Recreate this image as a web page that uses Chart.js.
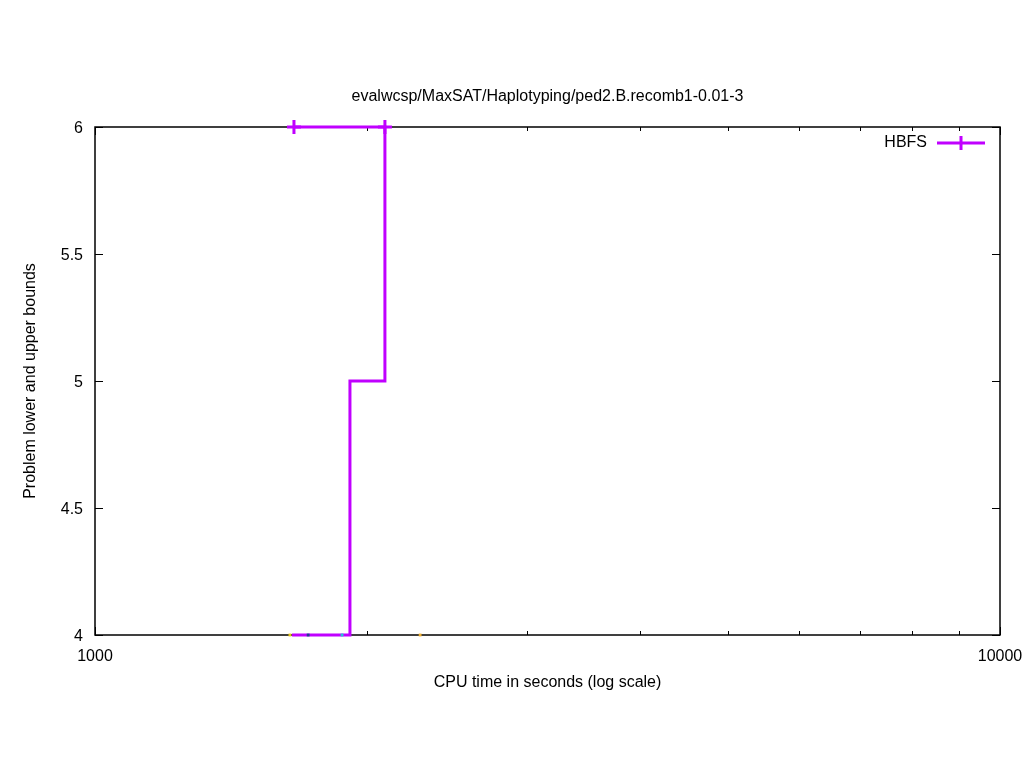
<!DOCTYPE html>
<html>
<head>
<meta charset="utf-8">
<script src="https://cdn.jsdelivr.net/npm/chart.js@4.4.1/dist/chart.umd.min.js"></script>
<style>
  html, body { margin: 0; padding: 0; background: #fff; }
  canvas { display: block; }
</style>
</head>
<body>
<canvas id="chart" width="1024" height="768"></canvas>
<script>
  "use strict";

  // HBFS bound trace (CPU seconds, bound value)
  const hbfsTimes = [1659, 2091, 2091, 1913, 1913, 1651];
  const hbfsBounds = [6, 6, 5, 5, 4, 4];
  const hbfsMarked = [true, true, false, false, false, false];

  // tiny dots of the other solvers sitting on the lower bound
  const dotTimes = [1642, 1720, 1875, 2287];
  const dotBounds = [4, 4, 4, 4];
  const dotColors = ["#e6c619", "#1f3f8f", "#22c7d6", "#f0b030"];

  const xTicks = [1000, 10000];
  const xMinorTicks = [2000, 3000, 4000, 5000, 6000, 7000, 8000, 9000];
  const yTicks = [4, 4.5, 5, 5.5, 6];

  const titleText = "evalwcsp/MaxSAT/Haplotyping/ped2.B.recomb1-0.01-3";
  const xLabel = "CPU time in seconds (log scale)";
  const yLabel = "Problem lower and upper bounds";
  const seriesName = "HBFS";

  const FONT = "'Liberation Sans', Arial, sans-serif";
  const PURPLE = "#c000ff";

  const hbfsData = hbfsTimes.map((t, i) => ({ x: t, y: hbfsBounds[i] }));

  const datasets = [
    {
      label: seriesName,
      data: hbfsData,
      showLine: true,
      clip: false,
      order: 1,
      borderColor: PURPLE,
      backgroundColor: PURPLE,
      borderWidth: 3,
      pointStyle: "cross",
      pointRadius: hbfsMarked.map((m) => (m ? 7 : 0)),
      pointBorderWidth: 3,
      pointBorderColor: PURPLE,
      tension: 0,
    },
  ];

  dotTimes.forEach((t, i) => {
    datasets.push({
      label: "dot" + i,
      data: [{ x: t, y: dotBounds[i] }],
      showLine: false,
      clip: false,
      order: 0,
      pointStyle: "rect",
      pointRadius: 2,
      borderWidth: 0,
      backgroundColor: dotColors[i],
      borderColor: dotColors[i],
    });
  });

  // gnuplot style frame, inward ticks, labels and key
  const gnuplotDecor = {
    id: "gnuplotDecor",
    beforeDatasetsDraw(chart) {
      const ctx = chart.ctx;
      const area = chart.chartArea;
      const xs = chart.scales.x;
      const ys = chart.scales.y;

      ctx.save();
      ctx.strokeStyle = "#000";
      ctx.lineWidth = 1;

      // ticks on all four sides
      ctx.beginPath();
      yTicks.forEach((v) => {
        const py = Math.round(ys.getPixelForValue(v)) + 0.5;
        ctx.moveTo(area.left, py);
        ctx.lineTo(area.left + 8, py);
        ctx.moveTo(area.right, py);
        ctx.lineTo(area.right - 8, py);
      });
      xTicks.forEach((v) => {
        const px = Math.round(xs.getPixelForValue(v)) + 0.5;
        ctx.moveTo(px, area.bottom);
        ctx.lineTo(px, area.bottom - 8);
        ctx.moveTo(px, area.top);
        ctx.lineTo(px, area.top + 8);
      });
      xMinorTicks.forEach((v) => {
        const px = Math.round(xs.getPixelForValue(v)) + 0.5;
        ctx.moveTo(px, area.bottom);
        ctx.lineTo(px, area.bottom - 4);
        ctx.moveTo(px, area.top);
        ctx.lineTo(px, area.top + 4);
      });
      ctx.stroke();

      // frame
      ctx.lineWidth = 1.5;
      ctx.strokeRect(area.left, area.top, area.right - area.left, area.bottom - area.top);
      ctx.restore();
    },
    afterDatasetsDraw(chart) {
      const ctx = chart.ctx;
      const area = chart.chartArea;

      ctx.save();
      ctx.fillStyle = "#000";
      ctx.font = "16px " + FONT;
      ctx.textAlign = "center";
      ctx.textBaseline = "middle";
      ctx.fillText(titleText, (area.left + area.right) / 2, 97);
      ctx.fillText(xLabel, (area.left + area.right) / 2, 683);

      ctx.save();
      ctx.translate(31, (area.top + area.bottom) / 2);
      ctx.rotate(-Math.PI / 2);
      ctx.fillText(yLabel, 0, 0);
      ctx.restore();

      // key
      ctx.textAlign = "right";
      ctx.fillText(seriesName, 927, 143);
      ctx.strokeStyle = PURPLE;
      ctx.lineWidth = 3;
      ctx.beginPath();
      ctx.moveTo(937, 143);
      ctx.lineTo(985, 143);
      ctx.moveTo(961, 136);
      ctx.lineTo(961, 150);
      ctx.stroke();

      ctx.restore();
    },
  };

  new Chart(document.getElementById("chart"), {
    type: "scatter",
    data: { datasets: datasets },
    options: {
      responsive: false,
      animation: false,
      devicePixelRatio: 1,
      layout: { padding: { top: 127, right: 24, bottom: 0, left: 0 } },
      plugins: {
        legend: { display: false },
        title: { display: false },
        tooltip: { enabled: false },
      },
      scales: {
        x: {
          type: "logarithmic",
          min: 1000,
          max: 10000,
          afterFit(scale) {
            scale.height = 133;
            scale.paddingLeft = 0;
            scale.paddingRight = 0;
          },
          afterBuildTicks(scale) {
            scale.ticks = xTicks.map((v) => ({ value: v }));
          },
          grid: { display: false, drawTicks: false },
          border: { display: false },
          ticks: {
            padding: 12,
            color: "#000",
            font: { family: FONT, size: 16 },
            maxRotation: 0,
            callback: (v) => String(v),
          },
        },
        y: {
          min: 4,
          max: 6,
          afterFit(scale) {
            scale.width = 95;
            scale.paddingTop = 0;
            scale.paddingBottom = 0;
          },
          afterBuildTicks(scale) {
            scale.ticks = yTicks.map((v) => ({ value: v }));
          },
          grid: { display: false, drawTicks: false },
          border: { display: false },
          ticks: {
            padding: 12,
            labelOffset: 1.5,
            color: "#000",
            font: { family: FONT, size: 16 },
            callback: (v) => String(v),
          },
        },
      },
    },
    plugins: [gnuplotDecor],
  });
</script>
</body>
</html>
